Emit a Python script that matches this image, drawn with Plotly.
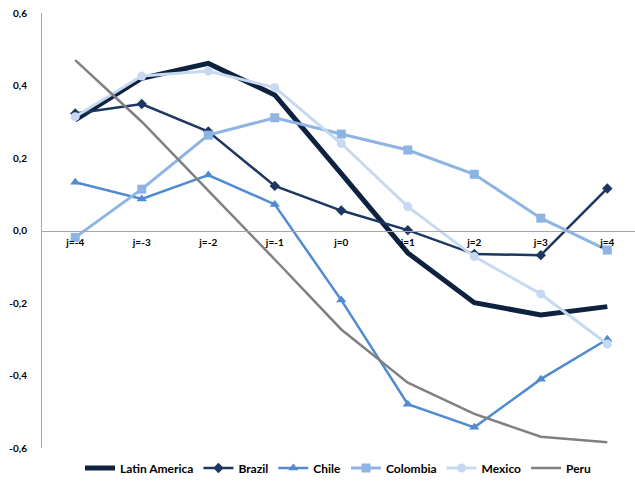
import plotly.graph_objects as go

# Event-window periods
periods = ["j=-4", "j=-3", "j=-2", "j=-1", "j=0", "j=1", "j=2", "j=3", "j=4"]

latin_america = [0.305, 0.420, 0.461, 0.374, 0.157, -0.062, -0.199, -0.233, -0.210]
brazil = [0.323, 0.349, 0.273, 0.123, 0.055, 0.001, -0.065, -0.068, 0.116]
chile = [0.133, 0.087, 0.153, 0.072, -0.192, -0.479, -0.543, -0.410, -0.300]
colombia = [-0.019, 0.114, 0.263, 0.311, 0.266, 0.222, 0.155, 0.034, -0.054]
mexico = [0.314, 0.426, 0.440, 0.394, 0.240, 0.066, -0.072, -0.175, -0.313]
peru = [0.470, 0.300, 0.110, -0.080, -0.273, -0.420, -0.506, -0.569, -0.584]

y_tickvals = [-0.6, -0.4, -0.2, 0.0, 0.2, 0.4, 0.6]
y_ticktext = ["-0,6", "-0,4", "-0,2", "0,0", "0,2", "0,4", "0,6"]

FONT = "Lato, 'Liberation Sans', sans-serif"
x = list(range(len(periods)))

series = [
    ("Latin America", latin_america, "#0e2240", 5, None, 0),
    ("Brazil", brazil, "#1c3760", 2.5, "diamond", 8),
    ("Chile", chile, "#4f8ad3", 2.5, "triangle-up", 9),
    ("Colombia", colombia, "#8db4e2", 3, "square", 9),
    ("Mexico", mexico, "#c6d9f1", 3, "circle", 9),
    ("Peru", peru, "#808080", 2.5, None, 0),
]

fig = go.Figure()
for name, vals, color, width, symbol, size in series:
    fig.add_trace(go.Scatter(
        x=x, y=vals, name=name,
        mode="lines+markers" if symbol else "lines",
        line=dict(color=color, width=width),
        marker=dict(symbol=symbol or "circle", size=size, color=color),
        cliponaxis=False,
    ))

y_min, y_max = -0.6, 0.6
fig.update_layout(
    width=635, height=483,
    margin=dict(l=42, r=0, t=13, b=35),
    paper_bgcolor="white", plot_bgcolor="white",
    font=dict(family=FONT, size=11, color="black"),
    showlegend=True,
    legend=dict(
        orientation="h", x=0.5, xanchor="center",
        y=-0.046, yanchor="middle",
        font=dict(family=FONT, size=12, color="black", weight="bold"),
        itemwidth=30, tracegroupgap=0,
    ),
    xaxis=dict(
        range=[-0.5, 8.416],
        tickmode="array", tickvals=x, ticktext=periods,
        showgrid=False, zeroline=False,
        showline=True, linecolor="#a6a6a6", linewidth=1,
        anchor="free", position=(0 - y_min) / (y_max - y_min),
        ticks="", ticklabelstandoff=2,
        tickfont=dict(family=FONT, size=10, color="black", weight="bold"),
    ),
    yaxis=dict(
        range=[y_min, y_max],
        tickmode="array", tickvals=y_tickvals, ticktext=y_ticktext,
        showgrid=False, zeroline=False,
        showline=True, linecolor="#a6a6a6", linewidth=1,
        ticks="", ticklabelstandoff=12,
        tickfont=dict(family=FONT, size=10, color="black", weight="bold"),
    ),
)

fig.write_html("out.html")
